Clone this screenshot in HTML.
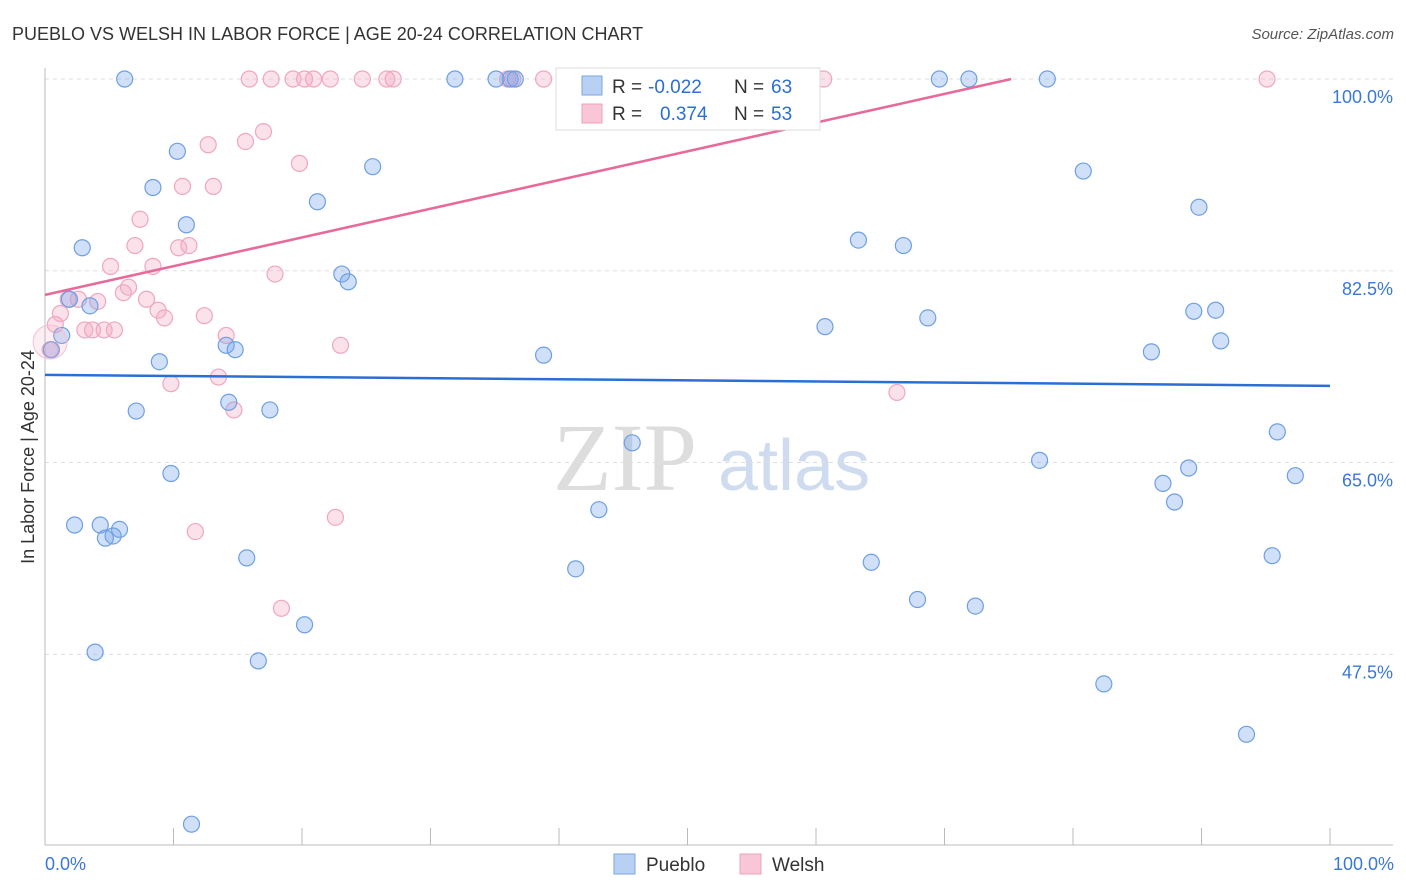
<!DOCTYPE html>
<html><head><meta charset="utf-8"><style>
body{margin:0;background:#fff;font-family:"Liberation Sans",sans-serif;}
#wrap{position:relative;width:1406px;height:892px;overflow:hidden;}
</style></head><body><div id="wrap">
<svg id="svg" width="1406" height="892">
<text x="12" y="40" font-size="18" fill="#333">PUEBLO VS WELSH IN LABOR FORCE | AGE 20-24 CORRELATION CHART</text>
<text x="1394" y="39" font-size="15" fill="#555" font-style="italic" text-anchor="end">Source: ZipAtlas.com</text>
<text x="0" y="0" font-size="18" fill="#333" text-anchor="middle" transform="translate(34,457) rotate(-90)">In Labor Force | Age 20-24</text>
<text x="553" y="490" font-size="96" fill="#ddd" font-family="Liberation Serif">ZIP</text>
<text x="718" y="490" font-size="72" fill="#cfdcf0">atlas</text>
<g id="grid"></g><g id="axes"></g><g id="pts"></g><g id="trend"></g>
<g>
<rect x="556" y="68" width="264" height="62" fill="#fff" stroke="#ddd"/>
<rect x="582" y="76" width="20" height="19" fill="#b8d0f2" stroke="#7aa6e6"/>
<rect x="582" y="104" width="20" height="19" fill="#f8c6d6" stroke="#f0a0bc"/>
<text y="93" font-size="19"><tspan x="612" fill="#333">R = </tspan><tspan x="648" fill="#2a6fd6">-0.022</tspan><tspan x="734" fill="#333">N = </tspan><tspan x="771" fill="#2a6fd6">63</tspan></text>
<text y="120" font-size="19"><tspan x="612" fill="#333">R = </tspan><tspan x="660" fill="#2a6fd6">0.374</tspan><tspan x="734" fill="#333">N = </tspan><tspan x="771" fill="#2a6fd6">53</tspan></text>
</g>
<g>
<rect x="614" y="854" width="21" height="20" fill="#b8d0f2" stroke="#7aa6e6"/>
<text x="646" y="871" font-size="19" fill="#333">Pueblo</text>
<rect x="740" y="854" width="21" height="20" fill="#f8c6d6" stroke="#f0a0bc"/>
<text x="772" y="871" font-size="19" fill="#333">Welsh</text>
</g>
<text x="45" y="870" font-size="18" fill="#3a78d8">0.0%</text>
<text x="1394" y="870" font-size="18" fill="#3a78d8" text-anchor="end">100.0%</text>
</svg></div>
<script>
const yTicks=[100,82.5,65,47.5];
const yTickLabels=["100.0%","82.5%","65.0%","47.5%"];
const puebloX=[6.2,31.9,35.1,36.2,36.6,69.6,71.9,78.0,10.3,25.5,8.4,21.2,11.0,2.9,63.3,66.8,80.8,89.8,23.1,23.6,3.5,1.3,60.7,68.7,89.4,91.1,91.5,0.5,14.1,14.8,38.8,86.1,8.9,7.1,14.3,17.5,45.7,95.9,9.8,77.4,89.0,87.0,87.9,97.3,2.3,4.3,5.8,4.7,5.3,43.1,15.7,41.3,64.3,95.5,20.2,67.9,72.4,3.9,16.6,82.4,93.5,11.4,1.9];
const puebloY=[100,100,100,100,100,100,100,100,93.4,92.0,90.1,88.8,86.7,84.6,85.3,84.8,91.6,88.3,82.2,81.5,79.3,76.6,77.4,78.2,78.8,78.9,76.1,75.3,75.7,75.3,74.8,75.1,74.2,69.7,70.5,69.8,66.8,67.8,64.0,65.2,64.5,63.1,61.4,63.8,59.3,59.3,58.9,58.1,58.3,60.7,56.3,55.3,55.9,56.5,50.2,52.5,51.9,47.7,46.9,44.8,40.2,32.0,79.9];
const welshX=[15.9,17.6,19.3,20.2,20.9,22.2,24.7,26.6,27.1,36.0,36.4,38.8,60.6,95.1,17.0,12.7,15.6,19.8,10.7,13.1,7.4,7.0,10.4,11.2,5.1,8.4,17.9,1.8,2.6,4.1,6.1,6.5,7.9,8.8,9.3,12.4,1.2,3.1,3.7,4.6,5.4,14.1,23.0,0.4,13.5,9.8,14.7,66.3,22.6,11.7,18.4,0.8];
const welshY=[100,100,100,100,100,100,100,100,100,100,100,100,100,100,95.2,94.0,94.3,92.3,90.2,90.2,87.2,84.8,84.6,84.8,82.9,82.9,82.2,79.9,79.9,79.7,80.5,81.0,79.9,78.9,78.2,78.4,78.6,77.1,77.1,77.1,77.1,76.6,75.7,75.3,72.8,72.2,69.8,71.4,60.0,58.7,51.7,77.6];
const puebloTrend=[73.0,72.0];
const welshTrend=[80.3,0.262];
const X0=45,X1=1330,YTOP=79,YBOT=845,YMIN=30.1,YMAX=100;
const sx=v=>X0+(X1-X0)*v/100;
const sy=v=>YTOP+(YMAX-v)/(YMAX-YMIN)*(YBOT-YTOP);
const NS="http://www.w3.org/2000/svg";
function mk(t,a,p){const e=document.createElementNS(NS,t);for(const k in a)e.setAttribute(k,a[k]);p.appendChild(e);return e;}
const grid=document.getElementById('grid'),axes=document.getElementById('axes'),pts=document.getElementById('pts'),tr=document.getElementById('trend');
yTicks.forEach((t,i)=>{
 const l=mk('line',{x1:X0,x2:1393,y1:sy(t),y2:sy(t),stroke:'#ddd','stroke-dasharray':'4,4'},grid);
 
 
 const tx=mk('text',{x:1393,y:sy(t)+24,'font-size':18,fill:'#3a78d8','text-anchor':'end'},grid);
 tx.textContent=yTickLabels[i];
 
 
});
let a=mk('line',{x1:X0,x2:X0,y1:68,y2:YBOT,stroke:'#bbb'},axes);


a=mk('line',{x1:X0,x2:1393,y1:YBOT,y2:YBOT,stroke:'#bbb'},axes);


for(let i=0;i<=10;i++){const t=mk('line',{x1:sx(i*10),x2:sx(i*10),y1:828,y2:YBOT,stroke:'#bbb'},axes);
 
 }
function dots(xs,ys,fill,stroke,name){xs.forEach((x,i)=>{
 const c=mk('circle',{cx:sx(x),cy:sy(ys[i]),r:8,fill:fill,stroke:stroke,'stroke-width':1.2},pts);
 
 });}
dots(welshX,welshY,'rgba(244,168,194,0.35)','#f0a6c0','welsh-point');
dots(puebloX,puebloY,'rgba(120,165,235,0.35)','#6e9fe4','pueblo-point');
const big=mk('circle',{cx:sx(0.4),cy:sy(76),r:17,fill:'rgba(244,168,194,0.2)',stroke:'#f5c0d2'},pts);


let t=mk('line',{x1:sx(0),y1:sy(puebloTrend[0]),x2:sx(100),y2:sy(puebloTrend[1]),stroke:'#2a6fd6','stroke-width':2.5},tr);


const xe=(100-welshTrend[0])/welshTrend[1];
t=mk('line',{x1:sx(0),y1:sy(welshTrend[0]),x2:sx(xe),y2:sy(100),stroke:'#e8699a','stroke-width':2.5},tr);


</script></body></html>
